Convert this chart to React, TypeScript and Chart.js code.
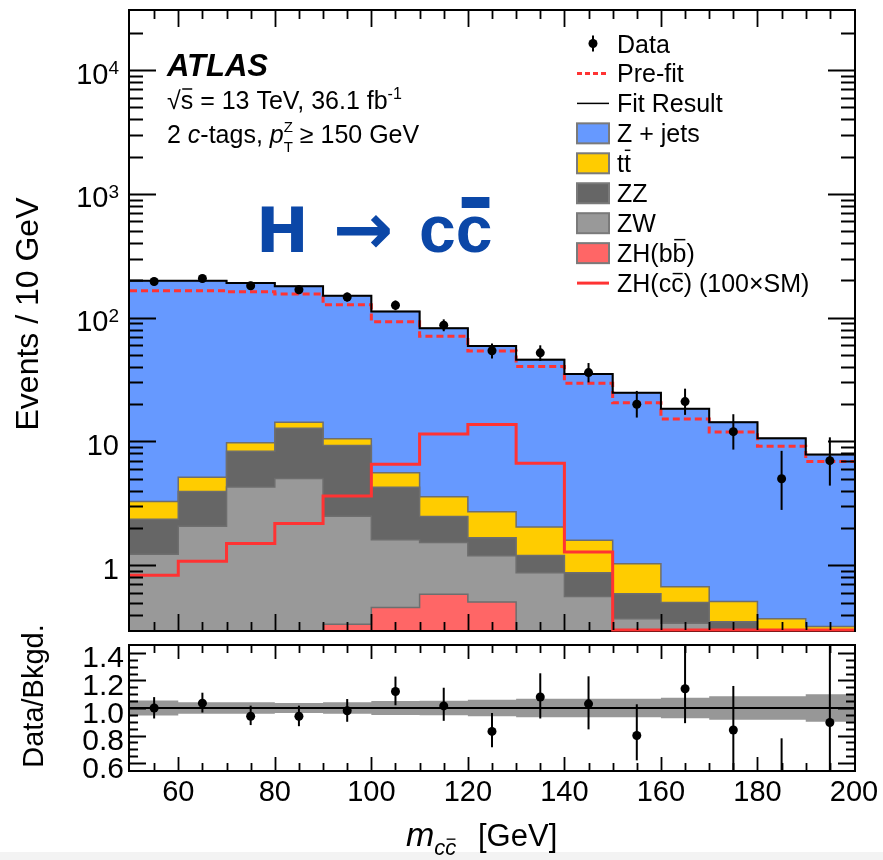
import React, { useEffect, useRef } from 'react';
import { Chart, registerables } from 'chart.js';

Chart.register(...registerables);

const FONT = '"Liberation Sans", Arial, Helvetica, sans-serif';

// ---------------- data ----------------
const binEdges = [50, 60, 70, 80, 90, 100, 110, 120, 130, 140, 150, 160, 170, 180, 190, 200];

// stacked backgrounds (events / 10 GeV), bottom to top
const zhbb = [0, 0, 0, 0, 0.334, 0.456, 0.584, 0.506, 0, 0, 0, 0, 0, 0, 0];
const zw = [1.23, 2.07, 4.28, 5.03, 2.15, 1.15, 0.94, 0.69, 0.87, 0.56, 0.37, 0.34, 0.2, 0.15, 0.1];
const zz = [1.12, 1.88, 4.07, 7.77, 6.81, 2.67, 0.95, 0.47, 0.33, 0.31, 0.22, 0.16, 0.15, 0.1, 0.1];
const ttbar = [0.93, 1.2, 1.42, 1.5, 1.21, 1.31, 1.11, 1.04, 0.84, 0.72, 0.44, 0.17, 0.16, 0.12, 0.12];
const zjets = [195.7, 193.9, 181.2, 164.7, 139.5, 106.4, 78.4, 56.4, 43.8, 33.5, 23.7, 17.7, 13.8, 10.2, 7.5];

const fitResult = [199, 199, 191, 179, 150, 112, 82, 59.1, 45.8, 35.1, 24.7, 18.4, 14.3, 10.6, 7.86];
const preFit = [165, 165, 162, 155, 127, 92.9, 70.7, 53.9, 40.3, 29.5, 20.5, 15.2, 11.9, 9.17, 6.9];
const zhcc100 = [0.83, 1.08, 1.5, 2.17, 3.62, 6.56, 11.5, 13.7, 6.67, 1.28, 0, 0, 0, 0, 0];

const dataCounts = [196, 207, 181, 168, 147, 126, 87, 54, 52, 36, 20, 21, 12, 5, 7];
const dataErrUp = [14.5, 14.9, 14, 13.5, 12.6, 11.7, 9.9, 7.9, 7.8, 7.0, 5.6, 5.7, 4.6, 3.4, 3.8];
const dataErrDown = [14, 14.4, 13.4, 13, 12.1, 11.2, 9.3, 7.3, 7.2, 6.0, 4.4, 4.6, 3.4, 2.2, 2.6];

// ratio panel
const ratioVals = [1.0, 1.035, 0.94, 0.94, 0.98, 1.12, 1.015, 0.83, 1.08, 1.03, 0.8, 1.14, 0.84, 0.47, 0.895];
const ratioErrUp = [0.079, 0.076, 0.077, 0.077, 0.085, 0.108, 0.132, 0.134, 0.172, 0.2, 0.227, 0.32, 0.32, 0.31, 0.6];
const ratioErrDown = [0.076, 0.068, 0.064, 0.072, 0.08, 0.1, 0.108, 0.115, 0.156, 0.185, 0.18, 0.25, 0.34, 0.17, 0.39];
const bkgUncert = [0.054, 0.042, 0.042, 0.036, 0.042, 0.05, 0.052, 0.06, 0.068, 0.068, 0.068, 0.075, 0.085, 0.085, 0.1];

// axes / ticks
const X_MIN = 50;
const X_MAX = 200;
const Y_MIN = 0.3;
const Y_MAX = 30000;
const R_MIN = 0.55;
const R_MAX = 1.45;
const xTickVals = [60, 80, 100, 120, 140, 160, 180, 200];
const xTickLabels = ['60', '80', '100', '120', '140', '160', '180', '200'];
const yTickVals = [1, 10, 100, 1000, 10000];
const yTickBase = ['1', '10', '10', '10', '10'];
const yTickExp = ['', '', '2', '3', '4'];
const rTickVals = [0.6, 0.8, 1.0, 1.2, 1.4];
const rTickLabels = ['0.6', '0.8', '1.0', '1.2', '1.4'];

// ---------------- style ----------------
const C_ZJETS = '#6699ff';
const C_TT = '#ffcc00';
const C_ZZ = '#666666';
const C_ZW = '#999999';
const C_ZHBB = '#ff6666';
const C_RED = '#ff3333';
const C_OUTLINE = '#6e6e6e';
const C_BAND = '#979797';
const C_TITLE = '#0b47a7';

const RATIO_TOP = 600;

const centers = binEdges.slice(0, -1).map((e, i) => (e + binEdges[i + 1]) / 2);

function stepPoints(vals: number[], floor: number) {
  const pts: { x: number; y: number }[] = [];
  vals.forEach((v, i) => {
    const y = Math.max(v, floor);
    pts.push({ x: binEdges[i], y }, { x: binEdges[i + 1], y });
  });
  return pts;
}

type Part = { t: string; size: number; style?: string; dy?: number; over?: number; adv?: boolean; x?: number };

function drawRich(ctx: CanvasRenderingContext2D, x: number, y: number, parts: Part[], color = '#000') {
  let cx = x;
  ctx.fillStyle = color;
  ctx.strokeStyle = color;
  ctx.textAlign = 'left';
  ctx.textBaseline = 'alphabetic';
  for (const p of parts) {
    if (p.x !== undefined) cx = p.x;
    ctx.font = `${p.style ?? ''} ${p.size}px ${FONT}`;
    const yy = y + (p.dy ?? 0);
    ctx.fillText(p.t, cx, yy);
    const w = ctx.measureText(p.t).width;
    if (p.over !== undefined) {
      ctx.lineWidth = Math.max(1.2, p.size * 0.06);
      ctx.beginPath();
      ctx.moveTo(cx + w * 0.12, yy - p.over * p.size);
      ctx.lineTo(cx + w * 0.92, yy - p.over * p.size);
      ctx.stroke();
    }
    if (p.adv !== false) cx += w;
  }
  return cx;
}

function drawErrorBars(ctx: CanvasRenderingContext2D, chart: any, vals: number[], up: number[], down: number[]) {
  const a = chart.chartArea;
  const xs = chart.scales.x;
  const ys = chart.scales.y;
  ctx.save();
  ctx.beginPath();
  ctx.rect(a.left, a.top, a.right - a.left, a.bottom - a.top);
  ctx.clip();
  ctx.strokeStyle = '#000';
  ctx.lineWidth = 2;
  vals.forEach((v, i) => {
    const px = xs.getPixelForValue(centers[i]);
    const lo = Math.max(v - down[i], ys.min * 0.5);
    const y1 = ys.getPixelForValue(v + up[i]);
    const y2 = ys.getPixelForValue(lo);
    ctx.beginPath();
    ctx.moveTo(px, y1);
    ctx.lineTo(px, y2);
    ctx.stroke();
  });
  ctx.restore();
}

function drawXTicks(ctx: CanvasRenderingContext2D, chart: any, major: number, minor: number) {
  const a = chart.chartArea;
  const xs = chart.scales.x;
  ctx.strokeStyle = '#000';
  ctx.lineWidth = 1.8;
  for (let v = X_MIN + 5; v < X_MAX; v += 5) {
    const len = v % 20 === 0 ? major : minor;
    const px = Math.round(xs.getPixelForValue(v)) + 0.5;
    ctx.beginPath();
    ctx.moveTo(px, a.top);
    ctx.lineTo(px, a.top + len);
    ctx.moveTo(px, a.bottom);
    ctx.lineTo(px, a.bottom - len);
    ctx.stroke();
  }
}

function drawYTick(ctx: CanvasRenderingContext2D, a: any, py: number, len: number) {
  ctx.beginPath();
  ctx.moveTo(a.left, py);
  ctx.lineTo(a.left + len, py);
  ctx.moveTo(a.right, py);
  ctx.lineTo(a.right - len, py);
  ctx.stroke();
}

function drawFrame(ctx: CanvasRenderingContext2D, a: any) {
  ctx.save();
  ctx.strokeStyle = '#000';
  ctx.lineWidth = 2;
  ctx.strokeRect(a.left - 1, a.top - 1, a.right - a.left + 2, a.bottom - a.top + 2);
  ctx.restore();
}

// ---------------- main chart ----------------
function mainConfig(): any {
  const stackDefs = [
    { vals: zhbb, color: C_ZHBB },
    { vals: zw, color: C_ZW },
    { vals: zz, color: C_ZZ },
    { vals: ttbar, color: C_TT },
    { vals: zjets, color: C_ZJETS },
  ];
  let running = binEdges.slice(0, -1).map(() => 0);
  const stackDatasets = stackDefs.map((d, k) => {
    running = running.map((r, i) => r + d.vals[i]);
    return {
      type: 'line',
      data: stepPoints(running, 0.01),
      backgroundColor: d.color,
      borderColor: C_OUTLINE,
      borderWidth: 1.5,
      fill: 'start',
      pointRadius: 0,
      tension: 0,
      order: 4 + k,
    };
  });

  const datasets: any[] = [
    {
      type: 'line',
      data: centers.map((x, i) => ({ x, y: dataCounts[i] })),
      showLine: false,
      pointRadius: 4.5,
      pointBackgroundColor: '#000',
      pointBorderWidth: 0,
      order: 0,
    },
    {
      type: 'line',
      data: stepPoints(fitResult, 0.01),
      borderColor: '#000',
      borderWidth: 2,
      pointRadius: 0,
      fill: false,
      order: 1,
    },
    {
      type: 'line',
      data: stepPoints(preFit, 0.01),
      borderColor: C_RED,
      borderWidth: 3,
      borderDash: [7, 4],
      pointRadius: 0,
      fill: false,
      order: 2,
    },
    {
      type: 'line',
      data: stepPoints(zhcc100, Y_MIN),
      borderColor: C_RED,
      borderWidth: 3,
      pointRadius: 0,
      fill: false,
      clip: 3,
      order: 3,
    },
    ...stackDatasets,
  ];

  const decor = {
    id: 'mainDecor',
    beforeDatasetsDraw(chart: any) {
      drawFrame(chart.ctx, chart.chartArea);
    },
    afterDatasetsDraw(chart: any) {
      const ctx: CanvasRenderingContext2D = chart.ctx;
      const a = chart.chartArea;
      const ys = chart.scales.y;
      drawErrorBars(ctx, chart, dataCounts, dataErrUp, dataErrDown);
      ctx.save();
      drawXTicks(ctx, chart, 16, 8);
      for (let e = -1; e <= 4; e++) {
        for (let m = 1; m <= 9; m++) {
          const v = m * Math.pow(10, e);
          if (v <= Y_MIN * 1.0001 || v >= Y_MAX * 0.9999) continue;
          const py = Math.round(ys.getPixelForValue(v)) + 0.5;
          drawYTick(ctx, a, py, m === 1 ? 26 : 13);
        }
      }
      // y tick labels
      ctx.fillStyle = '#000';
      yTickVals.forEach((v, i) => {
        const py = ys.getPixelForValue(v);
        const right = 119;
        let expW = 0;
        if (yTickExp[i]) {
          ctx.font = `19px ${FONT}`;
          expW = ctx.measureText(yTickExp[i]).width;
          ctx.textAlign = 'left';
          ctx.fillText(yTickExp[i], right - expW, py + 4);
        }
        ctx.font = `29px ${FONT}`;
        ctx.textAlign = 'right';
        ctx.fillText(yTickBase[i], right - expW, py + 13.5);
      });
      // y title
      ctx.save();
      ctx.translate(38, 314);
      ctx.rotate(-Math.PI / 2);
      ctx.font = `32px ${FONT}`;
      ctx.textAlign = 'center';
      ctx.fillText('Events / 10 GeV', 0, 0);
      ctx.restore();

      // ATLAS labels
      drawRich(ctx, 167, 76, [{ t: 'ATLAS', size: 31, style: 'italic bold' }]);
      drawRich(ctx, 167, 109, [
        { t: '\u221A', size: 25 },
        { t: 's', size: 25, over: 0.8 },
        { t: ' = 13 TeV, 36.1 fb', size: 25 },
        { t: '-1', size: 16, dy: -10 },
      ]);
      drawRich(ctx, 167, 143, [
        { t: '2 ', size: 25 },
        { t: 'c', size: 25, style: 'italic' },
        { t: '-tags, ', size: 25 },
        { t: 'p', size: 25, style: 'italic' },
        { t: 'Z', size: 15, dy: -11, adv: false },
        { t: 'T', size: 15, dy: 9 },
        { t: ' \u2265 150 GeV', size: 25 },
      ]);

      // big title H -> cc
      ctx.save();
      ctx.fillStyle = C_TITLE;
      ctx.textAlign = 'left';
      ctx.font = `bold 63px "DejaVu Sans", ${FONT}`;
      ctx.fillText('H', 256, 252);
      ctx.font = `bold 72px "DejaVu Sans", ${FONT}`;
      ctx.fillText('\u2192', 333, 254);
      ctx.font = `bold 66px ${FONT}`;
      ctx.fillText('c', 419, 252);
      const cW = ctx.measureText('c').width;
      ctx.fillText('c', 419 + cW, 252);
      ctx.fillRect(419 + cW + 6, 197, cW - 9, 11);
      ctx.restore();

      // legend
      const lx = 577;
      const lw = 32;
      const tx = 617;
      const row0 = 43.5;
      const rowH = 29.95;
      const rows: { kind: string; color?: string; parts: Part[] }[] = [
        { kind: 'data', parts: [{ t: 'Data', size: 25 }] },
        { kind: 'dash', parts: [{ t: 'Pre-fit', size: 25 }] },
        { kind: 'line', color: '#000', parts: [{ t: 'Fit Result', size: 25 }] },
        { kind: 'box', color: C_ZJETS, parts: [{ t: 'Z + jets', size: 25 }] },
        { kind: 'box', color: C_TT, parts: [{ t: 't', size: 25 }, { t: 't', size: 25, over: 0.88 }] },
        { kind: 'box', color: C_ZZ, parts: [{ t: 'ZZ', size: 25 }] },
        { kind: 'box', color: C_ZW, parts: [{ t: 'ZW', size: 25 }] },
        {
          kind: 'box',
          color: C_ZHBB,
          parts: [
            { t: 'ZH(b', size: 25 },
            { t: 'b', size: 25, over: 0.9 },
            { t: ')', size: 25 },
          ],
        },
        {
          kind: 'redline',
          color: C_RED,
          parts: [
            { t: 'ZH(c', size: 25 },
            { t: 'c', size: 25, over: 0.74 },
            { t: ') (100\u00D7SM)', size: 25 },
          ],
        },
      ];
      rows.forEach((r, i) => {
        const cy = row0 + i * rowH;
        ctx.save();
        if (r.kind === 'data') {
          ctx.strokeStyle = '#000';
          ctx.lineWidth = 2;
          ctx.beginPath();
          ctx.moveTo(lx + lw / 2, cy - 8);
          ctx.lineTo(lx + lw / 2, cy + 8);
          ctx.stroke();
          ctx.fillStyle = '#000';
          ctx.beginPath();
          ctx.arc(lx + lw / 2, cy, 4.5, 0, Math.PI * 2);
          ctx.fill();
        } else if (r.kind === 'dash') {
          ctx.strokeStyle = C_RED;
          ctx.lineWidth = 3;
          ctx.setLineDash([5, 3]);
          ctx.beginPath();
          ctx.moveTo(lx, cy);
          ctx.lineTo(lx + lw, cy);
          ctx.stroke();
        } else if (r.kind === 'line' || r.kind === 'redline') {
          ctx.strokeStyle = r.color!;
          ctx.lineWidth = r.kind === 'line' ? 1.5 : 3;
          ctx.beginPath();
          ctx.moveTo(lx, cy);
          ctx.lineTo(lx + lw, cy);
          ctx.stroke();
        } else {
          ctx.fillStyle = r.color!;
          ctx.fillRect(lx, cy - 10, lw, 20);
          ctx.strokeStyle = '#7a7a7a';
          ctx.lineWidth = 2;
          ctx.strokeRect(lx, cy - 10, lw, 20);
        }
        ctx.restore();
        drawRich(ctx, tx, cy + 9, r.parts);
      });
      ctx.restore();
    },
  };

  return {
    type: 'line',
    data: { datasets },
    options: {
      responsive: false,
      animation: false,
      devicePixelRatio: 1,
      events: [],
      layout: { padding: { left: 130, right: 883 - 854, top: 11, bottom: 640 - 630 } },
      scales: {
        x: { type: 'linear', min: X_MIN, max: X_MAX, display: false },
        y: { type: 'logarithmic', min: Y_MIN, max: Y_MAX, display: false },
      },
      plugins: { legend: { display: false }, tooltip: { enabled: false } },
    },
    plugins: [decor],
  };
}

// ---------------- ratio chart ----------------
function ratioConfig(): any {
  const datasets: any[] = [
    {
      type: 'line',
      data: centers.map((x, i) => ({ x, y: ratioVals[i] })),
      showLine: false,
      pointRadius: 4.5,
      pointBackgroundColor: '#000',
      pointBorderWidth: 0,
      order: 0,
    },
    {
      type: 'line',
      data: [
        { x: X_MIN, y: 1 },
        { x: X_MAX, y: 1 },
      ],
      borderColor: '#000',
      borderWidth: 2,
      pointRadius: 0,
      fill: false,
      order: 1,
    },
    {
      type: 'line',
      data: stepPoints(bkgUncert.map((u) => 1 + u), -10),
      borderWidth: 0,
      borderColor: 'rgba(0,0,0,0)',
      backgroundColor: C_BAND,
      pointRadius: 0,
      fill: '+1',
      order: 2,
    },
    {
      type: 'line',
      data: stepPoints(bkgUncert.map((u) => 1 - u), -10),
      borderWidth: 0,
      borderColor: 'rgba(0,0,0,0)',
      pointRadius: 0,
      fill: false,
      order: 3,
    },
  ];

  const decor = {
    id: 'ratioDecor',
    beforeDatasetsDraw(chart: any) {
      drawFrame(chart.ctx, chart.chartArea);
    },
    afterDatasetsDraw(chart: any) {
      const ctx: CanvasRenderingContext2D = chart.ctx;
      const a = chart.chartArea;
      const xs = chart.scales.x;
      const ys = chart.scales.y;
      drawErrorBars(ctx, chart, ratioVals, ratioErrUp, ratioErrDown);
      ctx.save();
      drawXTicks(ctx, chart, 13, 7);
      for (let k = 0; k <= 18; k++) {
        const v = R_MIN + k * 0.05;
        if (v <= R_MIN + 1e-6 || v >= R_MAX - 1e-6) continue;
        const isMajor = Math.abs(v * 5 - Math.round(v * 5)) < 1e-6;
        const py = Math.round(ys.getPixelForValue(v)) + 0.5;
        drawYTick(ctx, a, py, isMajor ? 16 : 8);
      }
      ctx.fillStyle = '#000';
      ctx.font = `30px ${FONT}`;
      ctx.textAlign = 'right';
      rTickVals.forEach((v, i) => {
        const py = ys.getPixelForValue(v);
        ctx.fillText(rTickLabels[i], 124, py + 14.5);
      });
      ctx.font = `29px ${FONT}`;
      ctx.textAlign = 'center';
      xTickVals.forEach((v, i) => {
        const px = xs.getPixelForValue(v);
        ctx.fillText(xTickLabels[i], px, 801 - RATIO_TOP);
      });
      // y title
      ctx.save();
      ctx.translate(43, 696 - RATIO_TOP);
      ctx.rotate(-Math.PI / 2);
      ctx.font = `29px ${FONT}`;
      ctx.textAlign = 'center';
      ctx.fillText('Data/Bkgd.', 0, 0);
      ctx.restore();
      // x title
      drawRich(ctx, 406, 846 - RATIO_TOP, [
        { t: 'm', size: 34, style: 'italic' },
        { t: 'c', size: 22, style: 'italic', dy: 9 },
        { t: 'c', size: 22, style: 'italic', dy: 9, over: 0.72 },
        { t: '[GeV]', size: 31, x: 478 },
      ]);
      ctx.restore();
    },
  };

  return {
    type: 'line',
    data: { datasets },
    options: {
      responsive: false,
      animation: false,
      devicePixelRatio: 1,
      events: [],
      layout: { padding: { left: 130, right: 883 - 854, top: 646 - RATIO_TOP, bottom: 860 - 770 } },
      scales: {
        x: { type: 'linear', min: X_MIN, max: X_MAX, display: false },
        y: { type: 'linear', min: R_MIN, max: R_MAX, display: false },
      },
      plugins: { legend: { display: false }, tooltip: { enabled: false } },
    },
    plugins: [decor],
  };
}

export default function App() {
  const mainRef = useRef<HTMLCanvasElement>(null);
  const ratioRef = useRef<HTMLCanvasElement>(null);

  useEffect(() => {
    const main = new Chart(mainRef.current as HTMLCanvasElement, mainConfig());
    const ratio = new Chart(ratioRef.current as HTMLCanvasElement, ratioConfig());
    return () => {
      main.destroy();
      ratio.destroy();
    };
  }, []);

  return (
    <div
      style={{
        position: 'absolute',
        left: 0,
        top: 0,
        width: 883,
        height: 860,
        background: '#ffffff',
        overflow: 'hidden',
      }}
    >
      <div style={{ position: 'absolute', left: 0, top: 852, width: 883, height: 8, background: '#f3f3f3' }} />
      <canvas
        ref={mainRef}
        width={883}
        height={640}
        style={{ position: 'absolute', left: 0, top: 0, width: 883, height: 640 }}
      />
      <canvas
        ref={ratioRef}
        width={883}
        height={860 - RATIO_TOP}
        style={{ position: 'absolute', left: 0, top: RATIO_TOP, width: 883, height: 860 - RATIO_TOP }}
      />
    </div>
  );
}
